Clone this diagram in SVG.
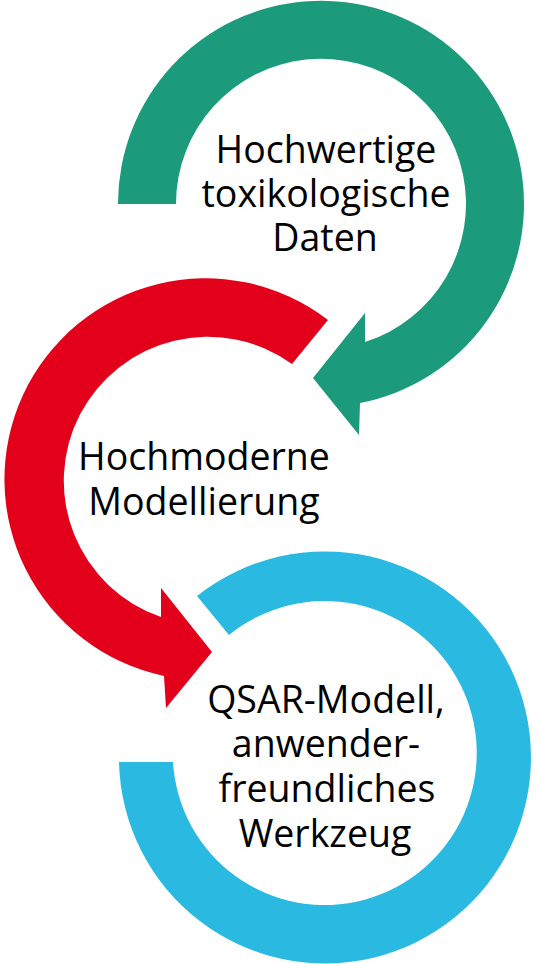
<svg xmlns="http://www.w3.org/2000/svg" width="539" height="964" viewBox="0 0 539 964">
<style>
.lbl{font-family:"Open Sans","Noto Sans",sans-serif;font-size:37.5px;fill:#000;text-anchor:middle}
.g{fill:#1b9b7c}.r{fill:#e2001a}.b{fill:#29b9e1}
</style>
<rect width="539" height="964" fill="#fff"/>
<g id="connectors">
<path class="g" d="M118,204 A203,203 0 1 1 360,403 L359,435 L313,378 L365,313 L365,342 A145,145 0 1 0 176,204 Z"/>
<path class="r" d="M328,320 A201,201 0 1 0 164,676 L166,708 L212,652 L161,588 L161,617 A144,144 0 1 1 292,364 Z"/>
<path class="b" d="M119,762 A206,206 0 1 0 197,596 L229,635 A152,152 0 1 1 173,762 Z"/>
</g>
<g id="node-daten">
<text class="lbl"><tspan x="326" y="163">Hochwertige</tspan><tspan x="326" y="207">toxikologische</tspan><tspan x="325" y="251">Daten</tspan></text>
</g>
<g id="node-modellierung">
<text class="lbl"><tspan x="204" y="470">Hochmoderne</tspan><tspan x="204" y="515">Modellierung</tspan></text>
</g>
<g id="node-qsar">
<text class="lbl"><tspan x="326" y="713">QSAR-Modell,</tspan><tspan x="326" y="757">anwender-</tspan><tspan x="327" y="802">freundliches</tspan><tspan x="325" y="847">Werkzeug</tspan></text>
</g>
</svg>
